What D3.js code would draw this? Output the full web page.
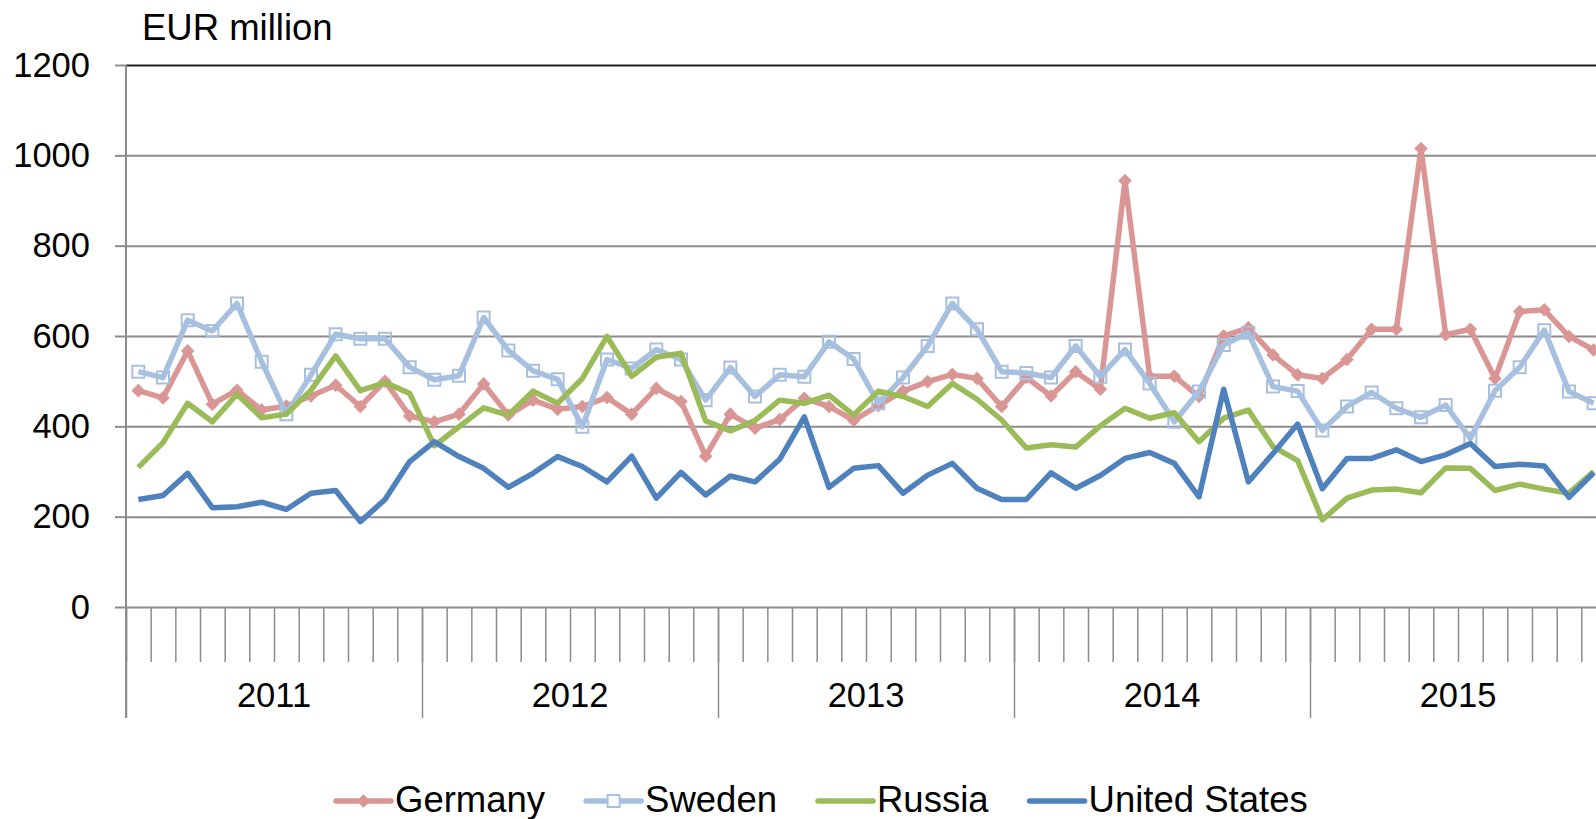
<!DOCTYPE html>
<html>
<head>
<meta charset="utf-8">
<script src="https://cdn.jsdelivr.net/npm/d3@7"></script>
<style>
body { margin: 0; background: #fff; }
svg { display: block; font-family: "Liberation Sans", Arial, sans-serif; }
</style>
</head>
<body>
<div id="chart"></div>
<script>
const years = ['2011', '2012', '2013', '2014', '2015'];
const yTicks = [0, 200, 400, 600, 800, 1000, 1200];

// monthly values, Jan 2011 - Dec 2015
const germany = [479, 463, 567, 449, 480, 436, 445, 467, 491, 444, 500, 423,
    410, 427, 494, 425, 458, 438, 444, 464, 427, 484, 455, 334,
    427, 396, 415, 462, 444, 413, 446, 478, 499, 515, 506, 444,
    508, 467, 521, 482, 944, 511, 511, 466, 600, 618, 558, 514,
    506, 548, 615, 615, 1015, 603, 615, 506, 654, 658, 599, 569];
const sweden = [521, 508, 635, 611, 672, 543, 427, 514, 604, 594, 594, 531,
    503, 512, 641, 568, 523, 504, 399, 548, 528, 570, 548, 458,
    530, 466, 514, 510, 587, 549, 451, 508, 578, 672, 615, 521,
    518, 508, 578, 510, 570, 495, 410, 477, 580, 607, 488, 478,
    391, 444, 475, 440, 420, 447, 373, 479, 531, 613, 477, 451];
const russia = [309, 364, 451, 410, 471, 419, 427, 480, 556, 479, 497, 473,
    357, 399, 441, 425, 478, 451, 506, 599, 511, 553, 562, 412,
    390, 413, 458, 451, 469, 425, 478, 466, 444, 495, 460, 414,
    352, 359, 354, 401, 440, 418, 430, 366, 418, 436, 355, 324,
    193, 241, 259, 261, 253, 308, 307, 258, 272, 261, 252, 300];
const usa = [238, 247, 296, 220, 222, 232, 216, 252, 258, 189, 238, 322,
    366, 333, 307, 265, 296, 333, 311, 277, 334, 241, 298, 248,
    290, 277, 327, 421, 265, 307, 313, 252, 292, 318, 263, 238,
    238, 297, 263, 291, 329, 342, 318, 244, 482, 277, 340, 405,
    262, 329, 329, 348, 322, 337, 362, 311, 316, 312, 243, 297];

const series = [
    { name: 'Germany', values: germany, color: '#d99694', marker: 'diamond' },
    { name: 'Sweden', values: sweden, color: '#a7c0df', marker: 'square' },
    { name: 'Russia', values: russia, color: '#9bbb59', marker: null },
    { name: 'United States', values: usa, color: '#4f81bd', marker: null },
];

const width = 1596;
const height = 819;
const plot = { left: 126, right: 1606, top: 65, bottom: 607 };
const gridColor = '#8c8c8c';

const svg = d3.select('#chart')
    .append('svg')
    .attr('width', width)
    .attr('height', height);

const nMonths = years.length * 12;

const x = d3.scaleLinear()
    .domain([0, nMonths])
    .range([plot.left, plot.right]);

const xYear = d3.scaleBand()
    .domain(years)
    .range([plot.left, plot.right]);

const y = d3.scaleLinear()
    .domain([0, 1200])
    .range([plot.bottom, plot.top]);

// gridlines
const grid = svg.append('g')
    .attr('transform', `translate(${plot.left}, 0)`)
    .call(d3.axisLeft(y).tickValues(yTicks.slice(1)).tickSize(-(plot.right - plot.left)).tickFormat(''));
grid.select('.domain').remove();
grid.selectAll('line')
    .attr('stroke', d => d === 1200 ? '#1e1e1e' : gridColor)
    .attr('stroke-width', 2);

// y axis
const yAxis = svg.append('g')
    .attr('transform', `translate(${plot.left}, 0)`)
    .call(d3.axisLeft(y).tickValues(yTicks).tickSize(11).tickPadding(25).tickFormat(d3.format('d')));
yAxis.select('.domain').remove();
yAxis.selectAll('line').attr('stroke', gridColor).attr('stroke-width', 2);
yAxis.selectAll('text')
    .attr('fill', '#000')
    .style('font-size', '34.5px')
    .style('font-family', '"Liberation Sans", Arial, sans-serif');

svg.append('line')
    .attr('x1', plot.left).attr('x2', plot.left)
    .attr('y1', plot.top).attr('y2', 718)
    .attr('stroke', gridColor)
    .attr('stroke-width', 2);

// month ticks
const mAxis = svg.append('g')
    .attr('transform', `translate(0, ${plot.bottom})`)
    .call(d3.axisBottom(x).tickValues(d3.range(0, nMonths + 1)).tickSize(55).tickSizeOuter(0).tickFormat(''));
mAxis.select('.domain').attr('stroke', gridColor).attr('stroke-width', 2);
mAxis.selectAll('line').attr('stroke', gridColor).attr('stroke-width', 1.5);

// year separators
const sepAxis = svg.append('g')
    .attr('transform', `translate(0, ${plot.bottom})`)
    .call(d3.axisBottom(x).tickValues(d3.range(0, nMonths + 1, 12)).tickSize(111).tickFormat(''));
sepAxis.select('.domain').remove();
sepAxis.selectAll('line').attr('stroke', gridColor).attr('stroke-width', 1.5);

// year labels
const yrAxis = svg.append('g')
    .attr('transform', `translate(0, ${plot.bottom})`)
    .call(d3.axisBottom(xYear).tickSize(0).tickPadding(76));
yrAxis.select('.domain').remove();
yrAxis.selectAll('text')
    .attr('fill', '#000')
    .style('font-size', '34.5px')
    .style('font-family', '"Liberation Sans", Arial, sans-serif');

// title
svg.append('text')
    .attr('x', 142)
    .attr('y', 40)
    .style('font-size', '36.5px')
    .text('EUR million');

// lines
const line = d3.line()
    .x((d, i) => x(i + 0.5))
    .y(d => y(d));

const diamond = d3.symbol(d3.symbolSquare, 92);
const square = d3.symbol(d3.symbolSquare, 144);

series.forEach(s => {
    svg.append('path')
        .datum(s.values)
        .attr('fill', 'none')
        .attr('stroke', s.color)
        .attr('stroke-width', 5.5)
        .attr('stroke-linejoin', 'round')
        .attr('d', line);

    if (s.marker === 'diamond') {
        svg.append('g').selectAll('path')
            .data(s.values)
            .join('path')
            .attr('transform', (d, i) => `translate(${x(i + 0.5)}, ${y(d)}) rotate(45)`)
            .attr('d', diamond)
            .attr('fill', s.color);
    } else if (s.marker === 'square') {
        svg.append('g').selectAll('path')
            .data(s.values)
            .join('path')
            .attr('transform', (d, i) => `translate(${x(i + 0.5)}, ${y(d)})`)
            .attr('d', square)
            .attr('fill', 'none')
            .attr('stroke', s.color)
            .attr('stroke-width', 2);
    }
});

// legend
let lx = 336;
const ly = 801;
series.forEach(s => {
    const item = svg.append('g');
    item.append('line')
        .attr('x1', lx).attr('x2', lx + 55)
        .attr('y1', ly).attr('y2', ly)
        .attr('stroke', s.color)
        .attr('stroke-width', 5.5)
        .attr('stroke-linecap', 'round');
    if (s.marker === 'diamond') {
        item.append('path')
            .attr('transform', `translate(${lx + 27.5}, ${ly}) rotate(45)`)
            .attr('d', diamond)
            .attr('fill', s.color);
    } else if (s.marker === 'square') {
        item.append('path')
            .attr('transform', `translate(${lx + 27.5}, ${ly})`)
            .attr('d', square)
            .attr('fill', '#fff')
            .attr('stroke', s.color)
            .attr('stroke-width', 2);
    }
    const t = item.append('text')
        .attr('x', lx + 59)
        .attr('y', 812)
        .style('font-size', '36.5px')
        .text(s.name);
    lx += 59 + t.node().getComputedTextLength() + 41;
});
</script>
</body>
</html>
